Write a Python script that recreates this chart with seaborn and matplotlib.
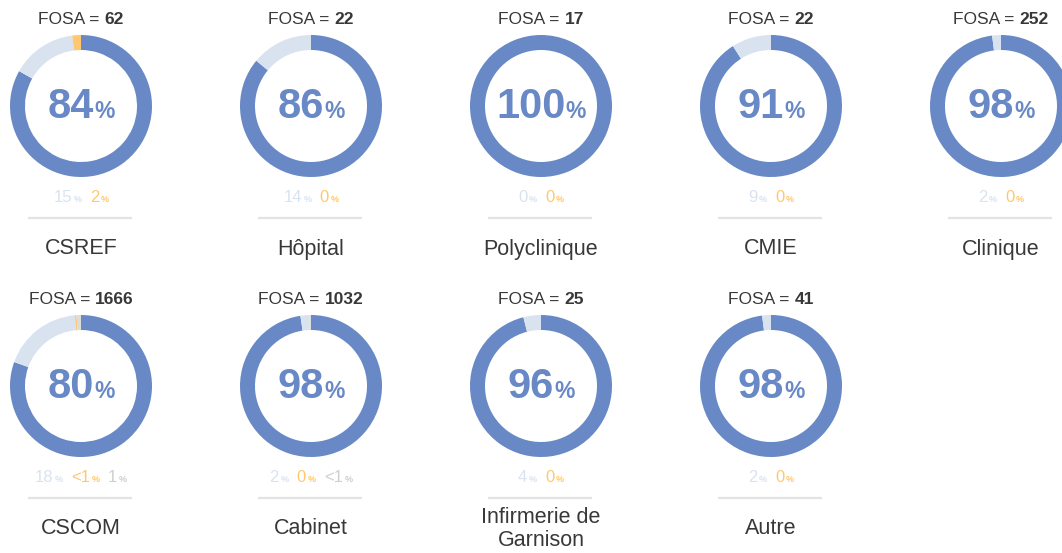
import matplotlib
matplotlib.use("Agg")
import matplotlib.pyplot as plt
import seaborn as sns
from matplotlib.offsetbox import TextArea, HPacker, AnnotationBbox

# data
categories = ["CSREF", "Hôpital", "Polyclinique", "CMIE", "Clinique",
              "CSCOM", "Cabinet", "Infirmerie de\nGarnison", "Autre"]
fosa = [62, 22, 17, 22, 252, 1666, 1032, 25, 41]
pct_main = [84, 86, 100, 91, 98, 80, 98, 96, 98]
pct_light = [15, 14, 0, 9, 2, 18, 2, 4, 2]
pct_orange = [2, 0, 0, 0, 0, 0.4, 0, 0, 0]
pct_gray = [None, None, None, None, None, 1, 0.4, None, None]

BLUE = "#6889c6"
LIGHT = "#d9e3f0"
ORANGE = "#ffc870"
GRAY = "#dcdcdc"
TXT = "#383838"

sns.set_theme(style="white")
plt.rcParams["font.family"] = ["Liberation Sans", "DejaVu Sans"]

W, H = 1062, 553
fig = plt.figure(figsize=(W / 100, H / 100), dpi=100)
ax = fig.add_axes([0, 0, 1, 1])

col_x = [81, 311, 541, 771, 1001]
row_y = [106, 386]   # donut centres, pixels from top
R, RING = 71, 15


def fmt(v):
    if 0 < v < 1:
        return "<1"
    return f"{v:.0f}"


def place(children, x, y_px, sep=0):
    box = HPacker(children=children, align="baseline", pad=0, sep=sep)
    ab = AnnotationBbox(box, (x, H - y_px), xycoords="data", frameon=False,
                        box_alignment=(0.5, 0.5), pad=0)
    ax.add_artist(ab)


for i, cat in enumerate(categories):
    cx = col_x[i % 5]
    cy = row_y[i // 5]

    vals = [pct_main[i], pct_light[i], pct_orange[i]]
    cols = [BLUE, LIGHT, ORANGE]
    if pct_gray[i] is not None:
        vals.append(pct_gray[i])
        cols.append(GRAY)
    ax.pie(vals, colors=cols, startangle=90, counterclock=False,
           radius=R, center=(cx, H - cy),
           wedgeprops=dict(width=RING, linewidth=0))

    # FOSA = n
    place([TextArea("FOSA = ", textprops=dict(fontsize=12.5, color=TXT)),
           TextArea(str(fosa[i]), textprops=dict(fontsize=12.5, color=TXT,
                                                 fontweight="bold"))],
          cx, cy - 86)

    # big percentage in the middle
    place([TextArea(str(pct_main[i]), textprops=dict(fontsize=30, color=BLUE,
                                                     fontweight="bold")),
           TextArea("%", textprops=dict(fontsize=16.5, color=BLUE,
                                        fontweight="bold"))],
          cx, cy + 1)

    # small labels under the donut
    parts = [(pct_light[i], LIGHT), (pct_orange[i], ORANGE)]
    if pct_gray[i] is not None:
        parts.append((pct_gray[i], "#cfcfcf"))
    groups = []
    for v, c in parts:
        groups.append(HPacker(children=[
            TextArea(fmt(v), textprops=dict(fontsize=12, color=c)),
            TextArea("%", textprops=dict(fontsize=6.5, color=c,
                                         fontweight="bold"))],
            align="baseline", pad=0, sep=1))
    place(groups, cx, cy + 91, sep=6)

    # separator line
    ax.plot([cx - 53, cx + 51], [H - (cy + 112)] * 2, color="#e3e3e3",
            lw=1.6, solid_capstyle="butt")

    # category name
    ax.text(cx, H - (cy + 143), cat, ha="center", va="center",
            fontsize=15.5, color=TXT, linespacing=1.1)

ax.set_xlim(0, W)
ax.set_ylim(0, H)
ax.set_aspect("equal", adjustable="box")
ax.axis("off")

fig.savefig("out.png", dpi=100)
